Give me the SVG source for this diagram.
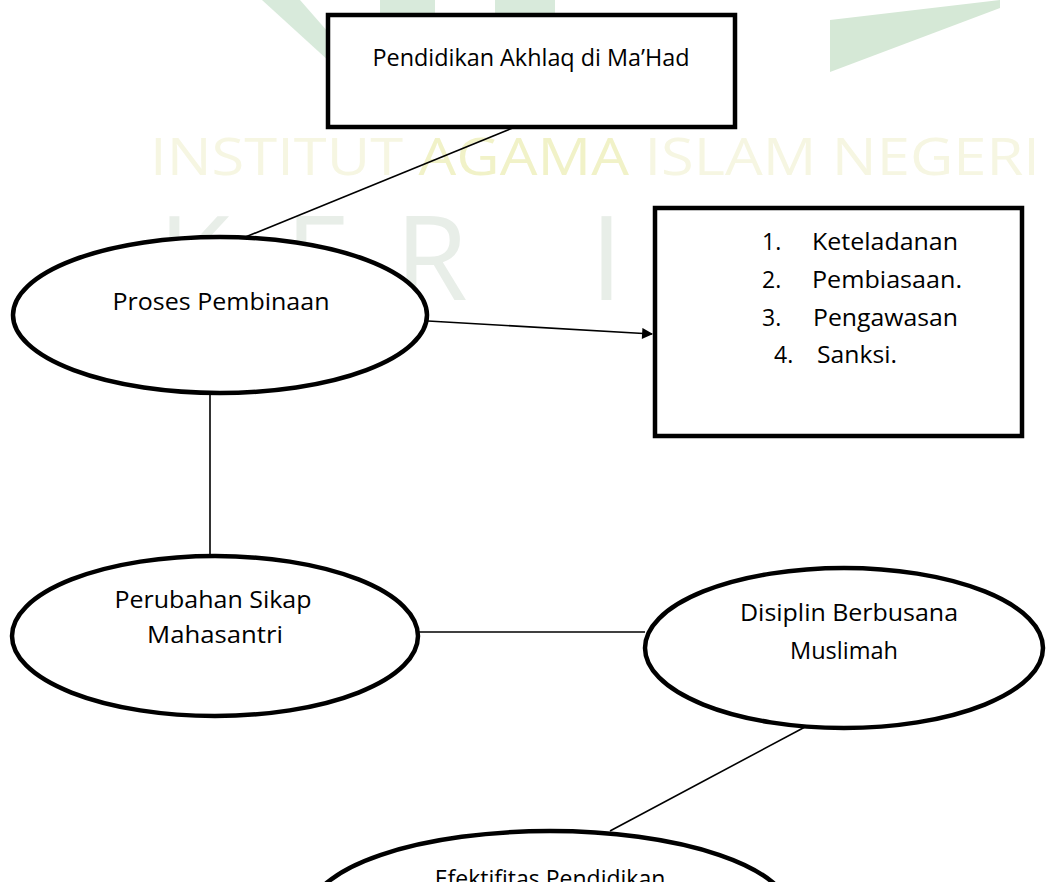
<svg xmlns="http://www.w3.org/2000/svg" width="1046" height="882" viewBox="0 0 1046 882">
<style>
.node{fill:#fff;stroke:#000;stroke-width:4.5}
.conn{stroke:#000;stroke-width:1.6;fill:none}
.t{font-family:"Open Sans","Noto Sans",sans-serif;font-size:23px;fill:#000}
.c{text-anchor:middle}
.wm{font-family:"Open Sans","Liberation Sans",sans-serif}
.big{font-size:118px;fill:#e8eee8}
</style>
<defs>
<marker id="arr" viewBox="0 0 10 10" refX="9" refY="5" markerWidth="13" markerHeight="11" markerUnits="userSpaceOnUse" orient="auto">
<path d="M0,0 L10,5 L0,10 z" fill="#000"/>
</marker>
</defs>
<rect width="1046" height="882" fill="#fff"/>
<g id="watermark">
<polygon points="262,0 300,0 335,40 330,62" fill="#d8eadb"/>
<rect x="380" y="0" width="55" height="18" fill="#d8eadb"/>
<rect x="495" y="0" width="60" height="18" fill="#d8eadb"/>
<polygon points="830,20 1000,0 1000,8 830,72" fill="#d5e8d6"/>
<text class="wm" x="150" y="175" font-size="52" fill="#f6f6e2" textLength="890" lengthAdjust="spacingAndGlyphs">INSTITUT <tspan fill="#f1f2c8">AGAMA</tspan> ISLAM NEGERI</text>
<text class="wm big" x="158" y="300">K</text>
<text class="wm big" x="285" y="300">E</text>
<text class="wm big" x="395" y="300">R</text>
<text class="wm big" x="590" y="300">I</text>
</g>
<g id="connectors">
<line class="conn" x1="515" y1="127" x2="243" y2="238"/>
<line class="conn" x1="428" y1="321" x2="652" y2="334" marker-end="url(#arr)"/>
<line class="conn" x1="210" y1="393" x2="210" y2="570"/>
<line class="conn" x1="419" y1="632" x2="645" y2="632"/>
<line class="conn" x1="805" y1="727" x2="610" y2="831"/>
</g>
<g id="n1">
<rect class="node" x="328" y="15" width="407" height="112"/>
<text class="t c" x="531" y="66" textLength="317" lengthAdjust="spacingAndGlyphs">Pendidikan Akhlaq di Ma’Had</text>
</g>
<g id="n2">
<ellipse class="node" cx="220" cy="315" rx="207" ry="78"/>
<text class="t c" x="221" y="310" textLength="217" lengthAdjust="spacingAndGlyphs">Proses Pembinaan</text>
</g>
<g id="n3">
<rect class="node" x="655" y="208" width="367" height="228"/>
<text class="t" x="762" y="250">1.</text><text class="t" x="812" y="250" textLength="146" lengthAdjust="spacingAndGlyphs">Keteladanan</text>
<text class="t" x="762" y="288">2.</text><text class="t" x="812" y="288" textLength="150" lengthAdjust="spacingAndGlyphs">Pembiasaan.</text>
<text class="t" x="762" y="326">3.</text><text class="t" x="813" y="326" textLength="145" lengthAdjust="spacingAndGlyphs">Pengawasan</text>
<text class="t" x="774" y="363">4.</text><text class="t" x="817" y="363" textLength="80" lengthAdjust="spacingAndGlyphs">Sanksi.</text>
</g>
<g id="n4">
<ellipse class="node" cx="215" cy="636" rx="203" ry="80"/>
<text class="t c" x="213" y="608" textLength="197" lengthAdjust="spacingAndGlyphs">Perubahan Sikap</text>
<text class="t c" x="215" y="643" textLength="136" lengthAdjust="spacingAndGlyphs">Mahasantri</text>
</g>
<g id="n5">
<ellipse class="node" cx="844" cy="648" rx="199" ry="80"/>
<text class="t c" x="849" y="621" textLength="218" lengthAdjust="spacingAndGlyphs">Disiplin Berbusana</text>
<text class="t c" x="844" y="659" textLength="108" lengthAdjust="spacingAndGlyphs">Muslimah</text>
</g>
<g id="n6">
<ellipse class="node" cx="550" cy="913" rx="240" ry="82"/>
<text class="t c" x="550" y="887">Efektifitas Pendidikan</text>
</g>
</svg>
